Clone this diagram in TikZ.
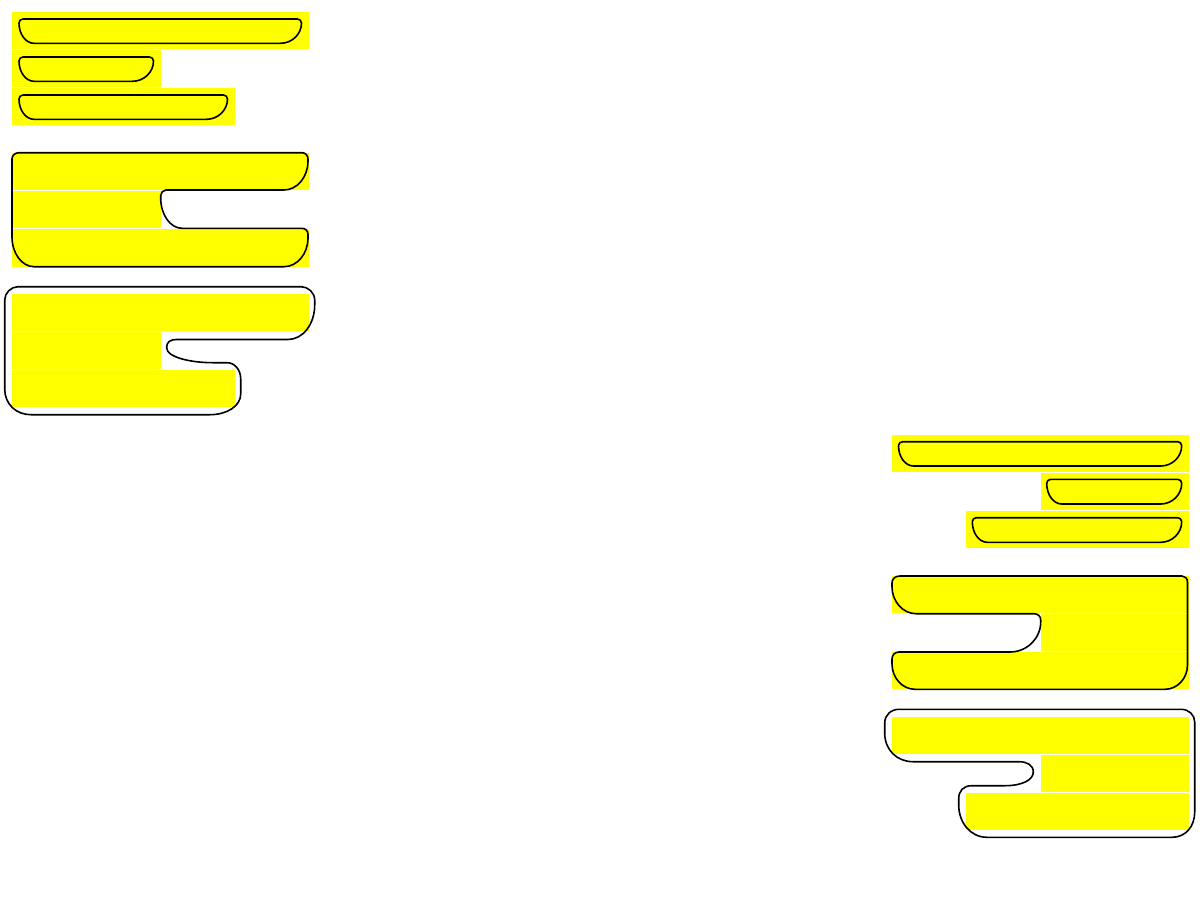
\documentclass[tikz,border=0pt]{standalone}
\usepackage{tikz}
\definecolor{hly}{RGB}{255,255,0}
\tikzset{
  hl/.style={fill=hly, draw=none},
  outl/.style={draw=black, line width=1.6pt, line join=round},
}
\newcommand\bowlshape[4]{% x1 y1 x2 y2
 \draw[outl] (#1,{#2+4}) .. controls (#1,{#2+1.8}) and ({#1+1.8},#2) .. ({#1+4},#2)
 -- ({#3-4},#2) .. controls ({#3-1.8},#2) and (#3,{#2+1.8}) .. (#3,{#2+4})
 .. controls (#3,{#2+4+0.55*(#4-#2-4)}) and ({#3-0.45*21},#4) .. ({#3-21},#4)
 -- ({#1+15},#4) .. controls ({#1+0.45*15},#4) and (#1,{#2+4+0.55*(#4-#2-4)}) .. (#1,{#2+4}) -- cycle;}
\begin{document}
\begin{tikzpicture}[x=1pt,y=-1pt]
\useasboundingbox[fill=white] (0,0) rectangle (1200,900);
% ---------- group 1
\fill[hl] (12,12) rectangle (308.7,49.3);
\fill[hl] (12,49.8) rectangle (160.7,87.3);
\fill[hl] (12,87.8) rectangle (234.7,125.3);
\bowlshape{19}{19}{301.5}{43.3}
\bowlshape{19}{57}{153.5}{81.3}
\bowlshape{19}{95}{227.5}{119.3}
% ---------- group 2
\fill[hl] (12,152.7) rectangle (308.7,190);
\fill[hl] (12,190.5) rectangle (160.7,228);
\fill[hl] (12,228.5) rectangle (308.7,266.7);
\draw[outl] (12,159) .. controls (12,155.5) and (15,152.7) .. (19,152.7)
 -- (302,152.7) .. controls (305.5,152.7) and (308,155.5) .. (308,159)
 -- (308,161) .. controls (308,177) and (297.2,190) .. (284,190)
 -- (166,190) .. controls (163.2,190) and (160.7,192.7) .. (160.7,195.5)
 -- (160.7,198) .. controls (160.7,214.7) and (170.3,228.3) .. (182,228.3)
 -- (302,228.3) .. controls (305.3,228.3) and (308,231) .. (308,234)
 -- (308,238) .. controls (308,253.8) and (297.2,266.7) .. (284,266.7)
 -- (34,266.7) .. controls (21.9,266.7) and (12,253.3) .. (12,237)
 -- cycle;
% ---------- group 3
\fill[hl] (12,294) rectangle (308.7,331);
\fill[hl] (12,331.5) rectangle (160.7,369);
\fill[hl] (12,369.5) rectangle (234.7,407.3);
\draw[outl] (4.7,300) .. controls (4.7,293) and (11,286.7) .. (18,286.7)
 -- (301,286.7) .. controls (308,286.7) and (314.7,292.5) .. (314.7,300)
 -- (314.7,305) .. controls (314.7,324) and (303,339.5) .. (288,339.5)
 -- (176,339.5) .. controls (171,339.5) and (166.7,342) .. (166.7,346.5)
 -- (166.7,348) .. controls (166.7,357) and (190,362.7) .. (213,362.7)
 -- (227,362.7) .. controls (235,362.7) and (240.7,370) .. (240.7,379)
 -- (240.7,394) .. controls (240.7,406) and (227,414.7) .. (210,414.7)
 -- (31,414.7) .. controls (16,414.7) and (4.7,404) .. (4.7,389)
 -- cycle;
% ---------- group 4
\fill[hl] (892,435) rectangle (1188.7,472.3);
\fill[hl] (1040.7,472.8) rectangle (1188.7,510.3);
\fill[hl] (966,510.8) rectangle (1188.7,548);
\bowlshape{898.5}{441.7}{1181.7}{466}
\bowlshape{1046.7}{479.3}{1181.7}{504}
\bowlshape{972.3}{517.7}{1181.7}{542.3}
% ---------- group 5
\fill[hl] (892,576) rectangle (1188.7,613.3);
\fill[hl] (1040.7,613.8) rectangle (1188.7,651.3);
\fill[hl] (892,651.8) rectangle (1188.7,689.3);
\draw[outl] (892,583) .. controls (892,579) and (895,576) .. (900,576)
 -- (1182,576) .. controls (1185,576) and (1187.5,578.5) .. (1187.5,582)
 -- (1187.5,665) .. controls (1187.5,678.4) and (1177.4,689.3) .. (1165,689.3)
 -- (915,689.3) .. controls (902.4,689.3) and (892,677.9) .. (892,664)
 -- (892,659) .. controls (892,655) and (895,652) .. (899,652)
 -- (1010,652) .. controls (1026.9,652) and (1040.7,638.5) .. (1040.7,622)
 -- (1040.7,620) .. controls (1040.7,616.3) and (1037.9,613.7) .. (1034,613.7)
 -- (916,613.7) .. controls (902.8,613.7) and (892,601.2) .. (892,587)
 -- cycle;
% ---------- group 6
\fill[hl] (892,716.7) rectangle (1188.7,754);
\fill[hl] (1040.7,754.5) rectangle (1188.7,792);
\fill[hl] (966,792.5) rectangle (1188.7,830);
\draw[outl] (884.7,723) .. controls (884.7,715) and (891,709.3) .. (899,709.3)
 -- (1181,709.3) .. controls (1189,709.3) and (1194.7,715) .. (1194.7,722)
 -- (1194.7,812) .. controls (1194.7,826) and (1186,837.3) .. (1172,837.3)
 -- (987,837.3) .. controls (970,837.3) and (958.7,822) .. (958.7,805)
 -- (958.7,799) .. controls (958.7,791) and (963,785.7) .. (972,785.7)
 -- (1005,785.7) .. controls (1022,785.7) and (1033.3,780) .. (1033.3,772)
 .. controls (1033.3,765) and (1027,761.7) .. (1019,761.7)
 -- (913,761.7) .. controls (897,761.7) and (884.7,750) .. (884.7,733)
 -- cycle;
\end{tikzpicture}
\end{document}
